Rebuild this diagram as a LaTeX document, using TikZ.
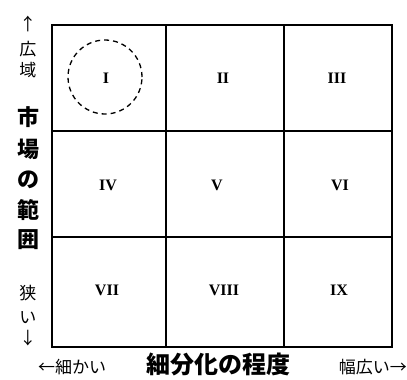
\documentclass[tikz,border=0pt]{standalone}
\usepackage{fontspec}
\setmainfont{Liberation Serif}
\newfontfamily\jp{Noto Sans CJK JP}
\begin{document}
\begin{tikzpicture}[x=1pt,y=-1pt,
  grid/.style={line width=1.8pt},
  num/.style={font=\fontsize{16}{16}\selectfont\bfseries},
  small/.style={font=\jp\fontsize{17}{17}\selectfont, inner sep=0pt},
  big/.style={font=\jp\fontsize{22}{22}\selectfont\bfseries, inner sep=0pt},
  bigger/.style={font=\jp\fontsize{24}{24}\selectfont\bfseries, inner sep=0pt}]
\useasboundingbox (0,0) rectangle (407,380);
\fill[white] (0,0) rectangle (407,380);
% grid
\coordinate (tl) at (52,25);
\coordinate (br) at (392,347);
\draw[grid] (tl) rectangle (br);
\draw[grid] (166,25) -- (166,347);
\draw[grid] (284,25) -- (284,347);
\draw[grid] (52,131) -- (392,131);
\draw[grid] (52,237) -- (392,237);
% circle
\node[draw, circle, dashed, line width=1.3pt, minimum size=74pt, dash pattern=on 5pt off 4pt] (c) at (105,77) {};
% numerals
\node[num] (n1) at (106,78) {I};
\node[num] (n2) at (223,78) {II};
\node[num] (n3) at (337,78) {III};
\node[num] (n4) at (108,185) {IV};
\node[num] (n5) at (217,185) {V};
\node[num] (n6) at (340,185) {VI};
\node[num] (n7) at (107,290) {VII};
\node[num] (n8) at (224,290) {VIII};
\node[num] (n9) at (339,290) {IX};
% left labels
\node[small] (ua) at (28,24) {↑};
\node[small] (l1) at (28,49) {広};
\node[small] (l2) at (28,70) {域};
\node[big] (b1) at (28,117) {市};
\node[big] (b2) at (28,149) {場};
\node[big] (b3) at (28,180) {の};
\node[big] (b4) at (28,210) {範};
\node[big] (b5) at (28,240) {囲};
\node[small] (l3) at (28,293) {狭};
\node[small] (l4) at (28,318) {い};
\node[small] (da) at (28,338) {↓};
% bottom labels
\node[small, anchor=west] (bl) at (38,367) {←細かい};
\node[bigger, anchor=west] (bt) at (146,364) {細分化の程度};
\node[small, anchor=east] (br2) at (407,367) {幅広い→};
\end{tikzpicture}
\end{document}
